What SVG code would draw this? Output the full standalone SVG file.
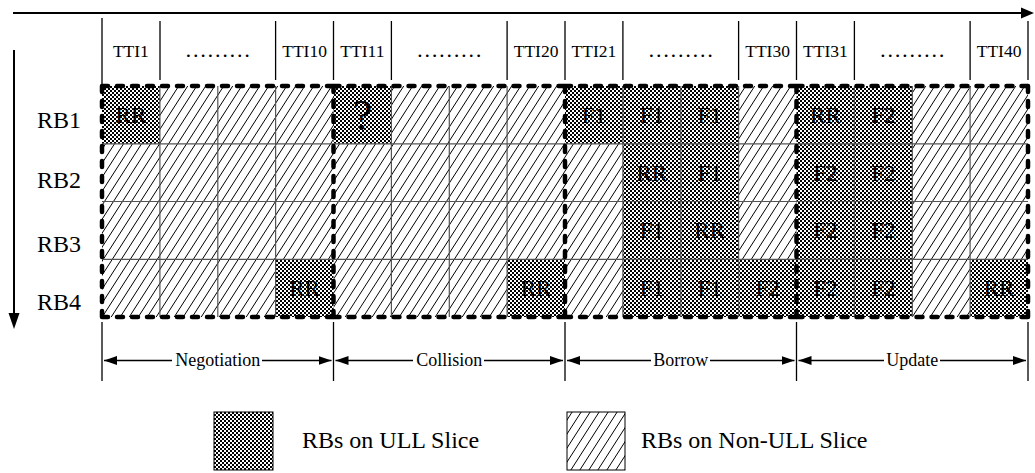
<svg xmlns="http://www.w3.org/2000/svg" width="1035" height="473" viewBox="0 0 1035 473">
<style>
text{font-family:"Liberation Serif","Times New Roman",serif;fill:#000}
.tti{font-size:17.5px;text-anchor:middle}
.dots{font-size:22px;text-anchor:middle}
.rb{font-size:24px;text-anchor:middle}
.cell{font-size:23px;text-anchor:middle}
.sec{font-size:18px;text-anchor:middle}
.leg{font-size:24px}
.tick{stroke:#000;stroke-width:1.3}
.grid{stroke:#555;stroke-width:1.2}
.u{fill:url(#chk)}
.dash{fill:none;stroke:#000;stroke-width:4.5;stroke-dasharray:6 9;stroke-linecap:round}
.axis{stroke:#000;stroke-width:2}
.span{stroke:#000;stroke-width:1.5}
</style>
<defs>
<pattern id="chk" width="4" height="4" patternUnits="userSpaceOnUse">
<rect width="4" height="4" fill="#fff"/>
<rect width="2" height="2" fill="#000"/>
<rect x="2" y="2" width="2" height="2" fill="#000"/>
</pattern>
<pattern id="hat" width="9" height="14" patternUnits="userSpaceOnUse">
<rect width="9" height="14" fill="#fff"/>
<path d="M0,14 L9,0 M-9,14 L0,0 M9,14 L18,0" stroke="#000" stroke-width="1"/>
</pattern>
<marker id="arr" markerUnits="userSpaceOnUse" markerWidth="14" markerHeight="9" refX="13" refY="4.5" orient="auto-start-reverse">
<path d="M0,0 L13,4.5 L0,9 z" fill="#000"/>
</marker>
</defs>

<g id="axes">
<line class="axis" x1="13" y1="13" x2="1023" y2="13"/>
<path d="M1021,7.5 L1034,13 L1021,18.5 z" fill="#000"/>
<line class="axis" x1="14" y1="50" x2="14" y2="315"/>
<path d="M8.5,313 L14,329 L19.5,313 z" fill="#000"/>
</g>

<g id="header">
<line class="tick" x1="102" y1="18" x2="102" y2="86"/>
<line class="tick" x1="160" y1="21" x2="160" y2="80"/>
<line class="tick" x1="275.6" y1="21" x2="275.6" y2="80"/>
<line class="tick" x1="333.5" y1="21" x2="333.5" y2="80"/>
<line class="tick" x1="391.4" y1="21" x2="391.4" y2="80"/>
<line class="tick" x1="507.1" y1="21" x2="507.1" y2="80"/>
<line class="tick" x1="565" y1="21" x2="565" y2="80"/>
<line class="tick" x1="622.9" y1="21" x2="622.9" y2="80"/>
<line class="tick" x1="738.6" y1="21" x2="738.6" y2="80"/>
<line class="tick" x1="796.5" y1="21" x2="796.5" y2="80"/>
<line class="tick" x1="854.4" y1="21" x2="854.4" y2="80"/>
<line class="tick" x1="970.1" y1="21" x2="970.1" y2="80"/>
<line class="tick" x1="1028" y1="21" x2="1028" y2="80"/>
<text class="tti" x="130.9" y="56.5">TTI1</text>
<text class="dots" x="217.8" y="57">………</text>
<text class="tti" x="304.6" y="56.5">TTI10</text>
<text class="tti" x="362.4" y="56.5">TTI11</text>
<text class="dots" x="449.3" y="57">………</text>
<text class="tti" x="536.1" y="56.5">TTI20</text>
<text class="tti" x="593.9" y="56.5">TTI21</text>
<text class="dots" x="680.8" y="57">………</text>
<text class="tti" x="767.6" y="56.5">TTI30</text>
<text class="tti" x="825.4" y="56.5">TTI31</text>
<text class="dots" x="912.3" y="57">………</text>
<text class="tti" x="999.1" y="56.5">TTI40</text>
</g>

<g id="rb-labels">
<text class="rb" x="59" y="128">RB1</text>
<text class="rb" x="59" y="188">RB2</text>
<text class="rb" x="59" y="252">RB3</text>
<text class="rb" x="59" y="310">RB4</text>
</g>

<g id="grid">
<rect x="102" y="86" width="926" height="231" fill="url(#hat)"/>
<rect x="333.5" y="259.3" width="57.9" height="57.7" fill="#f4f4f4"/>
<rect x="333.5" y="259.3" width="57.9" height="57.7" fill="url(#hat)" opacity="0.97"/>
<g id="ull-cells">
<rect class="u" x="102" y="86" width="57.9" height="57.8"/>
<rect class="u" x="333.5" y="86" width="57.9" height="57.8"/>
<rect class="u" x="565" y="86" width="173.6" height="57.8"/>
<rect class="u" x="796.5" y="86" width="115.8" height="57.8"/>
<rect class="u" x="622.9" y="143.8" width="115.7" height="115.5"/>
<rect class="u" x="796.5" y="143.8" width="115.8" height="115.5"/>
<rect class="u" x="275.6" y="259.3" width="57.9" height="57.7"/>
<rect class="u" x="507.1" y="259.3" width="57.9" height="57.7"/>
<rect class="u" x="622.9" y="259.3" width="289.4" height="57.7"/>
<rect class="u" x="970.1" y="259.3" width="57.9" height="57.7"/>
</g>
<g id="gridlines">
<line class="grid" x1="102" y1="143.8" x2="1028" y2="143.8"/>
<line class="grid" x1="102" y1="201.5" x2="1028" y2="201.5"/>
<line class="grid" x1="102" y1="259.3" x2="1028" y2="259.3"/>
<line class="grid" x1="159.9" y1="86" x2="159.9" y2="317"/>
<line class="grid" x1="217.8" y1="86" x2="217.8" y2="317"/>
<line class="grid" x1="275.6" y1="86" x2="275.6" y2="317"/>
<line class="grid" x1="391.4" y1="86" x2="391.4" y2="317"/>
<line class="grid" x1="449.3" y1="86" x2="449.3" y2="317"/>
<line class="grid" x1="507.1" y1="86" x2="507.1" y2="317"/>
<line class="grid" x1="622.9" y1="86" x2="622.9" y2="317"/>
<line class="grid" x1="680.8" y1="86" x2="680.8" y2="317"/>
<line class="grid" x1="738.6" y1="86" x2="738.6" y2="317"/>
<line class="grid" x1="854.4" y1="86" x2="854.4" y2="317"/>
<line class="grid" x1="912.3" y1="86" x2="912.3" y2="317"/>
<line class="grid" x1="970.1" y1="86" x2="970.1" y2="317"/>
</g>
<g id="cell-labels">
<text class="cell" x="130.9" y="122.8">RR</text>
<text x="362.4" y="130" style="font-size:44px;text-anchor:middle">?</text>
<text class="cell" x="593.9" y="122.8">F1</text>
<text class="cell" x="651.8" y="122.8">F1</text>
<text class="cell" x="709.7" y="122.8">F1</text>
<text class="cell" x="825.4" y="122.8">RR</text>
<text class="cell" x="883.3" y="122.8">F2</text>
<text class="cell" x="651.8" y="180.5">RR</text>
<text class="cell" x="709.7" y="180.5">F1</text>
<text class="cell" x="825.4" y="180.5">F2</text>
<text class="cell" x="883.3" y="180.5">F2</text>
<text class="cell" x="651.8" y="238.3">F1</text>
<text class="cell" x="709.7" y="238.3">RR</text>
<text class="cell" x="825.4" y="238.3">F2</text>
<text class="cell" x="883.3" y="238.3">F2</text>
<text class="cell" x="304.6" y="296">RR</text>
<text class="cell" x="536.1" y="296">RR</text>
<text class="cell" x="651.8" y="296">F1</text>
<text class="cell" x="709.7" y="296">F1</text>
<text class="cell" x="767.6" y="296">F2</text>
<text class="cell" x="825.4" y="296">F2</text>
<text class="cell" x="883.3" y="296">F2</text>
<text class="cell" x="999.1" y="296">RR</text>
</g>
</g>

<g id="section-negotiation">
<path class="dash" d="M102,86 H333.5 M102,317 H333.5 M102,86 V317"/>
</g>
<g id="section-collision">
<path class="dash" d="M333.5,86 H565 M333.5,317 H565 M333.5,86 V317"/>
</g>
<g id="section-borrow">
<path class="dash" d="M565,86 H796.5 M565,317 H796.5 M565,86 V317"/>
</g>
<g id="section-update">
<path class="dash" d="M796.5,86 H1028 M796.5,317 H1028 M796.5,86 V317 M1028,86 V317"/>
</g>

<g id="connectors">
<line class="tick" x1="102" y1="322" x2="102" y2="381"/>
<line class="tick" x1="333.5" y1="322" x2="333.5" y2="381"/>
<line class="tick" x1="565" y1="322" x2="565" y2="381"/>
<line class="tick" x1="796.5" y1="322" x2="796.5" y2="381"/>
<line class="tick" x1="1028" y1="322" x2="1028" y2="381"/>
<line class="span" x1="104" y1="360.5" x2="172" y2="360.5" marker-start="url(#arr)"/>
<line class="span" x1="262" y1="360.5" x2="331.5" y2="360.5" marker-end="url(#arr)"/>
<line class="span" x1="335.5" y1="360.5" x2="413" y2="360.5" marker-start="url(#arr)"/>
<line class="span" x1="484" y1="360.5" x2="563" y2="360.5" marker-end="url(#arr)"/>
<line class="span" x1="567" y1="360.5" x2="651" y2="360.5" marker-start="url(#arr)"/>
<line class="span" x1="710" y1="360.5" x2="794.5" y2="360.5" marker-end="url(#arr)"/>
<line class="span" x1="798.5" y1="360.5" x2="884" y2="360.5" marker-start="url(#arr)"/>
<line class="span" x1="940" y1="360.5" x2="1026" y2="360.5" marker-end="url(#arr)"/>
</g>
<g id="section-labels">
<text class="sec" x="217.8" y="366">Negotiation</text>
<text class="sec" x="449.3" y="366">Collision</text>
<text class="sec" x="680.8" y="366">Borrow</text>
<text class="sec" x="912.3" y="366">Update</text>
</g>

<g id="legend-ull">
<rect x="214" y="412" width="59" height="58" fill="url(#chk)" stroke="#000" stroke-width="1"/>
<text class="leg" x="302" y="448">RBs on ULL Slice</text>
</g>
<g id="legend-nonull">
<rect x="567" y="412" width="58" height="58" fill="url(#hat)" stroke="#000" stroke-width="1"/>
<text class="leg" x="641" y="448">RBs on Non-ULL Slice</text>
</g>
</svg>
